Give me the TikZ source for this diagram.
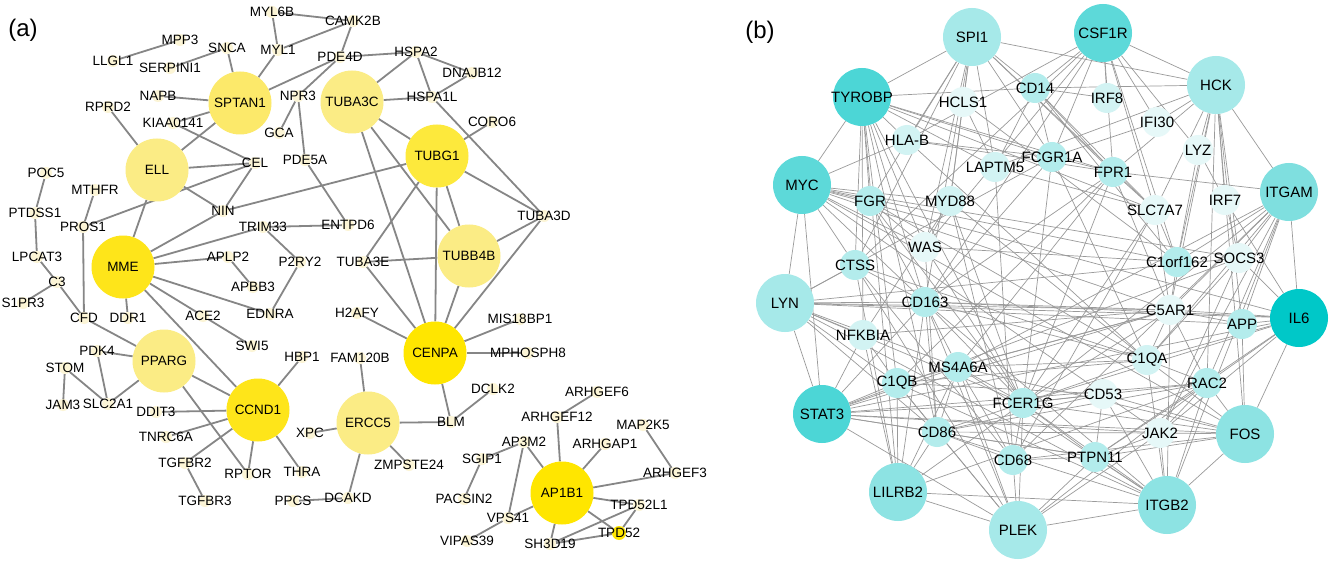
\documentclass[tikz,border=0pt]{standalone}
\usepackage{fontspec}
\setmainfont{Liberation Sans}
\pgfdeclarelayer{bg}
\pgfsetlayers{bg,main}
\definecolor{ayA}{HTML}{FFE600}
\definecolor{ayB}{HTML}{FEE51A}
\definecolor{ayC}{HTML}{FDE93C}
\definecolor{ayD}{HTML}{FCE96A}
\definecolor{ayE}{HTML}{FBEC85}
\definecolor{aysm}{HTML}{FCF5D6}
\definecolor{edA}{HTML}{868686}
\definecolor{edB}{HTML}{9A9A9A}
\definecolor{bIL}{HTML}{00C8C8}
\definecolor{bdk}{HTML}{4CD6D6}
\definecolor{bmd}{HTML}{5DD9D9}
\definecolor{bmdb}{HTML}{7FDFDF}
\definecolor{bmdc}{HTML}{8DE3E3}
\definecolor{blt}{HTML}{A6E9E9}
\definecolor{bsa}{HTML}{B3ECEC}
\definecolor{bsb}{HTML}{D2F3F3}
\definecolor{bsc}{HTML}{E6F8F8}
\tikzset{
  bigA/.style={circle, minimum size=63pt, inner sep=0pt, draw=none},
  smA/.style={circle, minimum size=12pt, inner sep=0pt, draw=none},
  labA/.style={font=\fontsize{13.5}{14}\selectfont, inner sep=0pt, text=black},
  edgeA/.style={draw=edA, line width=1.8pt},
  bigB/.style={circle, minimum size=58pt, inner sep=0pt, draw=none},
  smB/.style={circle, minimum size=30pt, inner sep=0pt, draw=none},
  labB/.style={font=\fontsize{15}{16}\selectfont, inner sep=0pt, text=black},
  edgeB/.style={draw=edB, line width=0.7pt},
  panel/.style={font=\fontsize{24}{26}\selectfont, inner sep=0pt}
}
\def\bigAlist{SPTAN1/240/103/ayD, TUBA3C/352/102/ayE, TUBG1/437/156/ayC, ELL/157/170/ayE, TUBB4B/469/256/ayE, MME/123/267/ayB, CENPA/435/353/ayA, PPARG/164/361/ayE, CCND1/258/410/ayB, ERCC5/368/423/ayE, AP1B1/562/493/ayA}
\def\smAlist{MYL6B/272/12, CAMK2B/353/21, MPP3/180/40, SNCA/227/48, MYL1/278/50, PDE4D/340/57, HSPA2/416/52, DNAJB12/472/73, LLGL1/113/61, SERPINI1/170/68, NAPB/158/96, NPR3/298/96, HSPA1L/432/97, RPRD2/108/107, KIAA0141/173/123, CORO6/492/122, GCA/279/133, PDE5A/305/160, CEL/255/163, POC5/46/173, MTHFR/95/190, NIN/223/211, PTDSS1/35/213, TUBA3D/544/216, PROS1/83/227, TRIM33/263/227, ENTPD6/348/225, LPCAT3/37/257, APLP2/228/257, P2RY2/300/262, TUBA3E/363/262, C3/57/282, APBB3/253/287, S1PR3/23/303, CFD/84/318, DDR1/128/318, ACE2/203/316, EDNRA/270/314, H2AFY/357/313, MIS18BP1/520/319, SWI5/252/346, PDK4/97/351, MPHOSPH8/528/353, HBP1/302/357, FAM120B/360/358, STOM/65/368, DCLK2/493/389, ARHGEF6/597/392, JAM3/63/405, SLC2A1/108/404, DDIT3/156/412, ARHGEF12/557/417, BLM/451/422, MAP2K5/643/425, XPC/310/433, TNRC6A/166/437, AP3M2/524/442, ARHGAP1/605/444, SGIP1/482/459, TGFBR2/185/463, ZMPSTE24/409/465, THRA/302/472, RPTOR/248/474, ARHGEF3/675/473, DCAKD/348/498, PACSIN2/464/499, TGFBR3/205/501, PPCS/293/501, TPD52L1/639/505, VPS41/508/518, VIPAS39/467/541, SH3D19/550/544}
\def\bigBlist{SPI1/972/37/blt, CSF1R/1103/33/bmd, TYROBP/862/97/bdk, HCK/1216/85/blt, MYC/802/185/bmd, ITGAM/1289/192/bmdb, LYN/785/303/blt, IL6/1299/318/bIL, STAT3/822/414/bdk, FOS/1245/434/bmdc, LILRB2/898/492/bmdc, ITGB2/1167/505/bmdc, PLEK/1018/530/blt}
\def\smBlist{CD14/CD14/1035/88/bsa, HCLS1/HCLS1/963/102/bsc, IRF8/IRF8/1107/98/bsb, IFI30/IFI30/1157/122/bsc, HLAB/HLA-B/907/140/bsb, LYZ/LYZ/1198/150/bsc, FCGR1A/FCGR1A/1052/157/bsa, LAPTM5/LAPTM5/995/167/bsb, FPR1/FPR1/1113/172/bsa, FGR/FGR/870/201/bsa, MYD88/MYD88/950/201/bsb, IRF7/IRF7/1225/200/bsc, SLC7A7/SLC7A7/1155/210/bsc, WAS/WAS/925/247/bsc, SOCS3/SOCS3/1239/258/bsc, C1orf162/C1orf162/1177/262/bsa, CTSS/CTSS/855/265/bsa, CD163/CD163/925/302/bsa, C5AR1/C5AR1/1170/310/bsc, APP/APP/1242/324/bsa, NFKBIA/NFKBIA/863/335/bsb, C1QA/C1QA/1147/360/bsb, MS4A6A/MS4A6A/958/367/bsa, C1QB/C1QB/897/383/bsa, RAC2/RAC2/1207/383/bsa, CD53/CD53/1103/394/bsc, FCER1G/FCER1G/1023/403/bsa, CD86/CD86/937/432/bsa, JAK2/JAK2/1160/433/bsc, PTPN11/PTPN11/1095/457/bsa, CD68/CD68/1013/460/bsa}
\begin{document}
\begin{tikzpicture}[x=1pt,y=-1pt]
\useasboundingbox (0,0) rectangle (1333,564);
% ---------- panel (a) nodes
\foreach \n/\x/\y/\c in \bigAlist { \node[bigA, fill=\c] (\n) at (\x,\y) {}; }
\foreach \n/\x/\y in \smAlist { \node[smA, fill=aysm] (\n) at (\x,\y) {}; }
\node[smA, fill=ayA, minimum size=14pt] (TPD52) at (619,533) {};
% ---------- panel (b) nodes
\foreach \n/\x/\y/\c in \bigBlist { \node[bigB, fill=\c] (\n) at (\x,\y) {}; }
\foreach \n/\t/\x/\y/\c in \smBlist { \node[smB, fill=\c] (\n) at (\x,\y) {}; }
% ---------- edges
\begin{pgfonlayer}{bg}
\fill[white] (0,0) rectangle (1333,564);
\foreach \a/\b in {MYL6B/CAMK2B, MYL6B/MYL1, MYL1/CAMK2B, MYL1/SPTAN1, CAMK2B/PDE4D, LLGL1/MPP3, SERPINI1/SNCA, SNCA/SPTAN1, NAPB/SPTAN1, KIAA0141/SPTAN1, KIAA0141/CEL, SPTAN1/ELL, SPTAN1/PDE4D, NPR3/PDE4D, NPR3/GCA, NPR3/PDE5A, PDE5A/ENTPD6, PDE4D/HSPA2, HSPA2/DNAJB12, HSPA2/HSPA1L, HSPA2/TUBA3C, DNAJB12/HSPA1L, TUBA3C/HSPA1L, HSPA1L/TUBA3D, TUBA3C/TUBG1, TUBA3C/TUBB4B, TUBA3C/CENPA, TUBG1/CORO6, TUBG1/TUBA3D, TUBG1/TUBB4B, TUBG1/TUBA3E, TUBG1/CENPA, TUBG1/NIN, TUBB4B/TUBA3E, TUBB4B/TUBA3D, TUBB4B/CENPA, TUBA3D/CENPA, TUBA3E/CENPA, H2AFY/CENPA, MIS18BP1/CENPA, MPHOSPH8/CENPA, CENPA/BLM, BLM/DCLK2, BLM/ERCC5, ERCC5/FAM120B, ERCC5/XPC, ERCC5/ZMPSTE24, ERCC5/DCAKD, DCAKD/PPCS, RPRD2/ELL, ELL/CEL, ELL/NIN, NIN/CEL, PROS1/CEL, MTHFR/PROS1, PROS1/CFD, ELL/MME, MME/NIN, MME/TRIM33, TRIM33/ENTPD6, TRIM33/P2RY2, P2RY2/EDNRA, MME/APLP2, APLP2/APBB3, MME/DDR1, MME/ACE2, MME/EDNRA, MME/CCND1, ACE2/SWI5, POC5/PTDSS1, PTDSS1/LPCAT3, LPCAT3/C3, C3/S1PR3, C3/CFD, CFD/PPARG, PDK4/PPARG, PDK4/SLC2A1, STOM/SLC2A1, STOM/JAM3, SLC2A1/PPARG, PPARG/CCND1, PPARG/RPTOR, CCND1/HBP1, CCND1/DDIT3, CCND1/TNRC6A, CCND1/TGFBR2, CCND1/RPTOR, CCND1/THRA, TGFBR2/TGFBR3, ARHGEF6/ARHGEF12, ARHGEF12/AP1B1, ARHGAP1/AP1B1, MAP2K5/ARHGEF3, ARHGEF3/AP1B1, AP1B1/TPD52L1, AP1B1/TPD52, TPD52L1/TPD52, TPD52L1/SH3D19, TPD52/SH3D19, AP1B1/SH3D19, AP1B1/VPS41, AP1B1/AP3M2, AP3M2/SGIP1, AP3M2/VPS41, SGIP1/PACSIN2, VPS41/VIPAS39}
  { \draw[edgeA] (\a) -- (\b); }
\foreach \a/\b in {SPI1/TYROBP, SPI1/CD14, SPI1/HCK, SPI1/HCLS1, SPI1/HLAB, SPI1/MYD88, SPI1/WAS, SPI1/FGR, SPI1/LAPTM5, SPI1/FCGR1A, SPI1/FPR1, SPI1/SLC7A7, SPI1/CTSS, SPI1/CD163,
  TYROBP/MYC, TYROBP/HLAB, TYROBP/FGR, TYROBP/CTSS, TYROBP/WAS, TYROBP/NFKBIA, TYROBP/C1QB, TYROBP/CD86, TYROBP/LILRB2, TYROBP/FCGR1A, TYROBP/FPR1, TYROBP/LAPTM5, TYROBP/SLC7A7, TYROBP/CD14, TYROBP/FCER1G, TYROBP/CD163,
  MYC/LYN, MYC/STAT3, MYC/FGR, MYC/MYD88, MYC/CTSS, MYC/WAS, MYC/C1orf162, MYC/SOCS3, MYC/C5AR1, MYC/IL6, MYC/FOS, MYC/JAK2, MYC/CD163, MYC/HLAB,
  CSF1R/CD14, CSF1R/IRF8, CSF1R/IFI30, CSF1R/LYZ, CSF1R/FCGR1A, CSF1R/FPR1, CSF1R/SLC7A7, CSF1R/HCK, CSF1R/HLAB, CSF1R/CTSS, CSF1R/WAS, CSF1R/C1orf162, CSF1R/CD163,
  HCK/CD14, HCK/IFI30, HCK/LYZ, HCK/FPR1, HCK/SLC7A7, HCK/IRF7, HCK/ITGAM, HCK/C1orf162, HCK/SOCS3, HCK/APP, HCK/FOS, HCK/RAC2, HCK/C5AR1, HCK/LAPTM5,
  ITGAM/FPR1, ITGAM/SOCS3, ITGAM/C1orf162, ITGAM/IL6, ITGAM/C5AR1, ITGAM/APP, ITGAM/RAC2, ITGAM/ITGB2, ITGAM/FCER1G, ITGAM/CD68, ITGAM/MS4A6A, ITGAM/C1QA, ITGAM/JAK2,
  LYN/STAT3, LYN/CD163, LYN/NFKBIA, LYN/CTSS, LYN/C5AR1, LYN/APP, LYN/IL6, LYN/FCER1G, LYN/C1QB, LYN/ITGB2, LYN/FCGR1A, LYN/SOCS3, LYN/MS4A6A, LYN/CD86,
  STAT3/NFKBIA, STAT3/C1QB, STAT3/MS4A6A, STAT3/IL6, STAT3/FOS, STAT3/JAK2, STAT3/PTPN11, STAT3/CD86, STAT3/SOCS3, STAT3/FCER1G, STAT3/CD163, STAT3/PLEK, STAT3/RAC2, STAT3/C5AR1,
  IL6/FOS, IL6/APP, IL6/SOCS3, IL6/C5AR1, IL6/JAK2, IL6/RAC2, IL6/PTPN11, IL6/C1QA, IL6/IRF7, IL6/CD163, IL6/FCER1G,
  FOS/RAC2, FOS/JAK2, FOS/CD53, FOS/ITGB2, FOS/PTPN11, FOS/APP, FOS/FCER1G, FOS/CD68, FOS/C1QA, FOS/MS4A6A,
  ITGB2/RAC2, ITGB2/PTPN11, ITGB2/JAK2, ITGB2/PLEK, ITGB2/LILRB2, ITGB2/FCER1G, ITGB2/CD53, ITGB2/C1QA, ITGB2/C5AR1, ITGB2/CD86, ITGB2/C1QB, ITGB2/CD163, ITGB2/MS4A6A,
  PLEK/LILRB2, PLEK/CD68, PLEK/MS4A6A, PLEK/CD86, PLEK/FCER1G, PLEK/PTPN11, PLEK/RAC2, PLEK/C1QB, PLEK/CD163, PLEK/CTSS, PLEK/JAK2,
  LILRB2/CD86, LILRB2/C1QB, LILRB2/FCER1G, LILRB2/MS4A6A, LILRB2/CD163, LILRB2/NFKBIA, LILRB2/CTSS, LILRB2/RAC2,
  CD14/FCGR1A, CD14/FPR1, CD14/IRF8, CD14/LAPTM5, CD14/SLC7A7, CD14/C1orf162, HLAB/FCGR1A, HLAB/C1QA, HLAB/FPR1, FCGR1A/FPR1, FCGR1A/CD163, FCGR1A/FCER1G, FCGR1A/C1QA, FPR1/SLC7A7, FPR1/C5AR1, FPR1/MS4A6A, FPR1/CD163, FPR1/FCER1G, FPR1/C1QB, MYD88/WAS, MYD88/CD68, MYD88/C1QA, MYD88/FCER1G, MYD88/NFKBIA, LAPTM5/CD68, LAPTM5/SLC7A7, FGR/WAS, FGR/CD163, FGR/C1QA, FGR/FCER1G, WAS/C1orf162, WAS/FCER1G, WAS/CD86, CTSS/CD163, CTSS/C1QA, CTSS/CD68, CD163/C5AR1, CD163/MS4A6A, CD163/FCER1G, CD163/C1QA, CD163/CD86, NFKBIA/C1QB, NFKBIA/C5AR1, MS4A6A/C5AR1, MS4A6A/C1QA, MS4A6A/CD86, MS4A6A/CD68, MS4A6A/FCER1G, C1QB/C1QA, C1QB/C5AR1, C1QB/CD86, C1QB/CD53, C1QA/RAC2, C1QA/FCER1G, C1QA/C5AR1, C5AR1/APP, C5AR1/RAC2, C5AR1/C1orf162, C5AR1/FCER1G, SLC7A7/C1orf162, SLC7A7/C5AR1, SLC7A7/FCER1G, SLC7A7/CD68, IFI30/FCGR1A, LYZ/C1orf162, LYZ/IRF7, IRF7/SOCS3, SOCS3/JAK2, SOCS3/C1QA, JAK2/PTPN11, JAK2/RAC2, JAK2/CD86, RAC2/PTPN11, RAC2/FCER1G, RAC2/CD86, CD53/FCER1G, CD53/PTPN11, CD53/CD86, FCER1G/CD68, FCER1G/CD86, FCER1G/PTPN11, CD68/CD86, CD68/PTPN11, PTPN11/CD86, HCLS1/LAPTM5, HCLS1/MYD88, HCLS1/C1orf162}
  { \draw[edgeB] (\a) -- (\b); }
\end{pgfonlayer}
% ---------- labels
\foreach \n/\x/\y/\c in \bigAlist { \node[labA] at (\n) {\n}; }
\foreach \n/\x/\y in \smAlist { \node[labA] at (\n) {\n}; }
\node[labA] at (TPD52) {TPD52};
\foreach \n/\x/\y/\c in \bigBlist { \node[labB] at (\n) {\n}; }
\foreach \n/\t/\x/\y/\c in \smBlist { \node[labB] at (\n) {\t}; }
\node[panel] (pa) at (23,30) {(a)};
\node[panel] (pb) at (760,32) {(b)};
\end{tikzpicture}
\end{document}
